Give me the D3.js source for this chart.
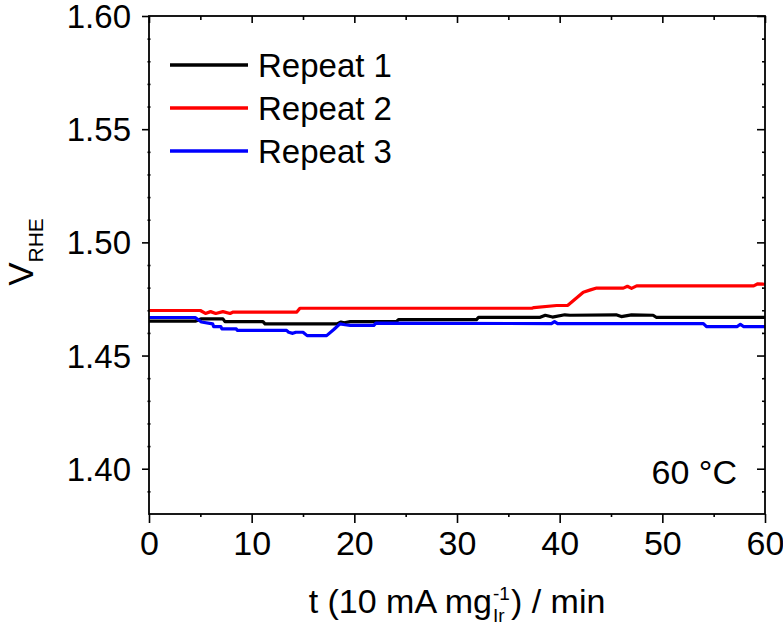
<!DOCTYPE html>
<html>
<head>
<meta charset="utf-8">
<script src="https://cdn.jsdelivr.net/npm/d3@7"></script>
<style>
    body { margin: 0; background: #fff; }
    svg text { font-family: "Liberation Sans", Arial, sans-serif; fill: #000; }
</style>
</head>
<body>
<div id="chart"></div>
<script>
// series (t in min, V vs RHE)
var timeR1 = [0, 4.5, 5.1, 7.2, 7.4, 11.1, 11.3, 18.3, 18.7, 19.0, 19.6, 24.1, 24.3, 31.9, 32.1, 38.1, 38.6, 39.3, 40.5, 41.0, 45.5, 46.0, 47.0, 49.1, 49.4, 60];
var voltR1 = [1.4652, 1.4652, 1.4662, 1.4662, 1.4650, 1.4650, 1.4640, 1.4640, 1.4648, 1.4645, 1.4650, 1.4650, 1.4659, 1.4659, 1.4669, 1.4669, 1.4678, 1.4670, 1.4680, 1.4678, 1.4680, 1.4672, 1.4680, 1.4678, 1.4669, 1.4669];

var timeR2 = [0, 5.0, 5.5, 6.0, 6.5, 7.2, 7.9, 8.2, 14.4, 14.7, 37.3, 37.5, 39.7, 40.8, 42.3, 43.0, 43.6, 46.2, 46.6, 47.0, 47.5, 58.9, 59.3, 60];
var voltR2 = [1.4699, 1.4699, 1.4686, 1.4694, 1.4686, 1.4694, 1.4686, 1.4692, 1.4692, 1.4709, 1.4709, 1.4712, 1.4721, 1.4722, 1.4780, 1.4790, 1.4798, 1.4798, 1.4806, 1.4797, 1.4808, 1.4808, 1.4817, 1.4815];

var timeR3 = [0, 4.5, 5.1, 6.2, 6.3, 7.0, 7.1, 8.5, 8.6, 13.4, 13.6, 14.0, 14.3, 15.0, 15.4, 17.3, 18.0, 18.6, 19.1, 19.6, 21.9, 22.1, 39.2, 39.5, 39.8, 54.0, 54.3, 57.3, 57.6, 57.9, 60];
var voltR3 = [1.4668, 1.4668, 1.4648, 1.4640, 1.4628, 1.4628, 1.4618, 1.4618, 1.4611, 1.4611, 1.4603, 1.4598, 1.4603, 1.4603, 1.4588, 1.4588, 1.4615, 1.4640, 1.4636, 1.4633, 1.4633, 1.4643, 1.4641, 1.4650, 1.4641, 1.4641, 1.4628, 1.4628, 1.4638, 1.4628, 1.4628];

var seriesNames = ["Repeat 1", "Repeat 2", "Repeat 3"];
var seriesColors = ["#000000", "#ff0000", "#0000ff"];

var xTicks = [0, 10, 20, 30, 40, 50, 60];
var yTicks = [1.40, 1.45, 1.50, 1.55, 1.60];
var xDomain = [0, 60];
var yDomain = [1.38, 1.60];

var W = 783, H = 625,
    margin = { top : 16, right : 18, bottom : 111, left : 149 },
    width = W - margin.left - margin.right,
    height = H - margin.top - margin.bottom;

var svg = d3.select("#chart").append("svg")
    .attr("width", W)
    .attr("height", H);

var g = svg.append("g")
    .attr("transform", "translate(" + margin.left + "," + margin.top + ")");

var x = d3.scaleLinear().domain(xDomain).range([0, width]);
var y = d3.scaleLinear().domain(yDomain).range([height, 0]);

var xMinor = d3.range(5, 60, 10);
var yMinor = d3.range(1.39, 1.60, 0.01).filter(function(v) {
    return Math.abs(Math.round(v * 20) - v * 20) > 0.01;
});

// axis helper: draws the ticks only, the frame is drawn later
var drawAxis = function(axis, cls, tr) {
    var a = g.append("g").attr("class", cls).attr("transform", tr).call(axis);
    a.select(".domain").remove();
    a.selectAll("line").attr("stroke", "#000").attr("stroke-width", 1.6);
    a.selectAll("text").style("font-size", "34px");
    return a;
};

// bottom
drawAxis(d3.axisBottom(x).tickValues(xTicks).tickSize(9).tickPadding(8).tickFormat(d3.format("d")),
    "x-axis", "translate(0," + height + ")");
drawAxis(d3.axisBottom(x).tickValues(xMinor).tickSize(3).tickFormat(""),
    "x-minor", "translate(0," + height + ")");
// top
drawAxis(d3.axisBottom(x).tickValues(xTicks).tickSize(7).tickFormat(""), "x-top", "translate(0,0)");
drawAxis(d3.axisBottom(x).tickValues(xMinor).tickSize(4).tickFormat(""), "x-top-minor", "translate(0,0)");
// left
drawAxis(d3.axisLeft(y).tickValues(yTicks).tickSize(7).tickPadding(11).tickFormat(d3.format(".2f")),
    "y-axis", "translate(0,0)");
drawAxis(d3.axisLeft(y).tickValues(yMinor).tickSize(3).tickFormat(""), "y-minor", "translate(1.5,0)");
// right
drawAxis(d3.axisLeft(y).tickValues(yTicks).tickSize(8).tickFormat(""), "y-right", "translate(" + width + ",0)");
drawAxis(d3.axisLeft(y).tickValues(yMinor).tickSize(3).tickFormat(""), "y-right-minor", "translate(" + width + ",0)");

g.selectAll(".y-axis text").attr("dy", "0.35em").style("font-size", "33px");
g.selectAll(".x-axis text").attr("dy", "0.72em");

// data lines
var line = d3.line()
    .x(function(d) { return x(d[0]); })
    .y(function(d) { return y(d[1]); });

var series = [
    d3.zip(timeR1, voltR1),
    d3.zip(timeR2, voltR2),
    d3.zip(timeR3, voltR3)
];

g.selectAll(".series").data(series).enter().append("path")
    .attr("class", "series")
    .attr("fill", "none")
    .attr("stroke", function(d, i) { return seriesColors[i]; })
    .attr("stroke-width", 3.2)
    .attr("stroke-linejoin", "round")
    .attr("d", line);

// frame
g.append("rect")
    .attr("width", width)
    .attr("height", height)
    .attr("fill", "none")
    .attr("stroke", "#000")
    .attr("stroke-width", 1.8);

// legend
var legend = g.selectAll(".legend").data(seriesNames).enter().append("g")
    .attr("class", "legend")
    .attr("transform", function(d, i) { return "translate(21," + (49 + i * 43) + ")"; });
legend.append("line")
    .attr("x1", 0).attr("x2", 78)
    .attr("stroke", function(d, i) { return seriesColors[i]; })
    .attr("stroke-width", 3.5);
legend.append("text")
    .attr("x", 88)
    .attr("dy", "0.36em")
    .style("font-size", "33px")
    .text(function(d) { return d; });

// temperature label
g.append("text")
    .attr("x", width - 28)
    .attr("y", 472 - margin.top)
    .attr("dy", "0.36em")
    .attr("text-anchor", "end")
    .style("font-size", "34px")
    .text("60 °C");

// x title, built in pieces so the sub/superscript stack
var tx = svg.append("g");
var t1 = tx.append("text").attr("y", 613).style("font-size", "34px").text("t (10 mA mg");
var w1 = t1.node().getComputedTextLength();
tx.append("text").attr("x", w1 + 1).attr("y", 600).style("font-size", "19px").text("-1");
tx.append("text").attr("x", w1 + 1).attr("y", 622).style("font-size", "19px").text("Ir");
var t2 = tx.append("text").attr("x", w1 + 19).attr("y", 613).style("font-size", "34px").text(") / min");
var wAll = w1 + 19 + t2.node().getComputedTextLength();
tx.attr("transform", "translate(" + (margin.left + width / 2 - wAll / 2) + ",0)");

// y title
var yt = svg.append("text")
    .attr("transform", "translate(33,252) rotate(-90)")
    .attr("text-anchor", "middle")
    .style("font-size", "35px");
yt.append("tspan").text("V");
yt.append("tspan").attr("dy", 10).style("font-size", "21px").text("RHE");
</script>
</body>
</html>
